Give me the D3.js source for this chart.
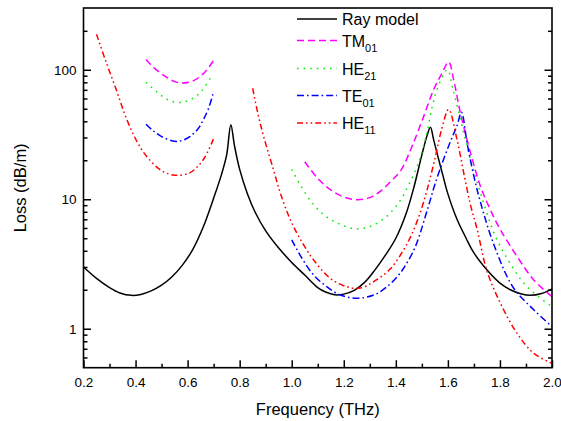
<!DOCTYPE html>
<html>
<head>
<meta charset="utf-8">
<script src="https://cdn.jsdelivr.net/npm/d3@7"></script>
<style>
  body { margin: 0; background: #fff; }
  svg { display: block; font-family: Arial, "Liberation Sans", sans-serif; }
</style>
</head>
<body>
<div id="chart"></div>
<script>
// ray model (black solid)
const rayX = [0.2, 0.25, 0.3, 0.34, 0.384, 0.42, 0.46, 0.5, 0.54, 0.58, 0.62, 0.66, 0.7, 0.73, 0.75, 0.766, 0.78, 0.8, 0.83, 0.86, 0.9, 0.95, 1.0, 1.05, 1.1, 1.13, 1.165, 1.2, 1.24, 1.28, 1.32, 1.36, 1.4, 1.44, 1.47, 1.5, 1.52, 1.533, 1.545, 1.56, 1.58, 1.6, 1.635, 1.67, 1.7, 1.76, 1.8, 1.84, 1.88, 1.917, 1.96, 2.0]
const rayY = [3.0, 2.45, 2.08, 1.89, 1.81, 1.84, 1.96, 2.17, 2.52, 3.1, 4.1, 6.1, 10.2, 15.5, 22, 37.7, 26, 17, 11, 7.9, 5.7, 4.2, 3.25, 2.6, 2.08, 1.92, 1.83, 1.85, 1.98, 2.28, 2.85, 3.7, 5.0, 7.8, 12.5, 22, 31, 36, 29, 22, 15.5, 11, 7.0, 5.0, 3.85, 2.7, 2.25, 2.0, 1.86, 1.81, 1.87, 2.03]

// TM01 (magenta dashed), two branches
const tm1X = [0.44, 0.47, 0.51, 0.55, 0.58, 0.62, 0.66, 0.70]
const tm1Y = [120, 104, 90, 81, 79, 82, 93, 118]
const tm2X = [1.05, 1.1, 1.15, 1.2, 1.25, 1.3, 1.34, 1.38, 1.42, 1.46, 1.5, 1.545, 1.575, 1.603, 1.622, 1.648, 1.687, 1.725, 1.763, 1.8, 1.866, 1.93, 2.0]
const tm2Y = [19.5, 14.5, 11.8, 10.4, 9.9, 10.3, 11.5, 13.7, 16.8, 25, 40, 70, 92, 115, 84, 46.5, 22.8, 12.6, 8.3, 5.9, 3.61, 2.38, 1.77]

// HE21 (green dotted)
const he21aX = [0.44, 0.48, 0.51, 0.54, 0.57, 0.60, 0.63, 0.655, 0.69]
const he21aY = [80, 68, 61, 57, 56, 57.5, 62, 69, 88]
const he21bX = [1.0, 1.033, 1.078, 1.13, 1.19, 1.245, 1.3, 1.366, 1.417, 1.45, 1.48, 1.5, 1.52, 1.54, 1.56, 1.598, 1.62, 1.65, 1.68, 1.725, 1.783, 1.847, 1.904, 2.0]
const he21bY = [17, 12.9, 9.4, 7.4, 6.35, 5.9, 6.15, 7.4, 9.8, 13, 17.5, 23, 33, 52, 72, 100, 70, 40, 22.8, 11.2, 5.15, 3.02, 2.11, 1.48]

// TE01 (blue dash-dot)
const te1X = [0.44, 0.47, 0.50, 0.55, 0.58, 0.61, 0.64, 0.66, 0.68, 0.70]
const te1Y = [38, 33.5, 30.5, 28, 28.5, 30.6, 35, 41, 50, 68]
const te2X = [1.0, 1.039, 1.084, 1.135, 1.187, 1.25, 1.315, 1.366, 1.411, 1.43, 1.468, 1.49, 1.51, 1.53, 1.55, 1.58, 1.61, 1.635, 1.652, 1.674, 1.70, 1.725, 1.776, 1.85, 1.93, 2.0]
const te2Y = [4.86, 3.51, 2.6, 2.11, 1.82, 1.72, 1.82, 2.11, 2.6, 2.93, 4.0, 5.2, 7.0, 9.5, 13, 19.5, 28, 37, 47, 27, 15, 9.5, 4.5, 2.1, 1.4, 1.04]

// HE11 (red dash-dot-dot)
const he11aX = [0.25, 0.288, 0.326, 0.365, 0.403, 0.442, 0.493, 0.544, 0.608, 0.66, 0.70]
const he11aY = [188, 113, 70, 42, 28.5, 21.5, 17, 15.4, 16, 20.2, 29.5]
const he11bX = [0.85, 0.87, 0.892, 0.93, 0.956, 0.99, 1.02, 1.05, 1.084, 1.148, 1.212, 1.263, 1.315, 1.379, 1.43, 1.46, 1.49, 1.52, 1.55, 1.575, 1.603, 1.635, 1.661, 1.687, 1.712, 1.75, 1.802, 1.866, 1.93, 2.0]
const he11bY = [72, 46, 30.6, 16.9, 11.2, 7.3, 5.47, 4.3, 3.4, 2.45, 2.11, 2.06, 2.31, 2.9, 4.07, 5.3, 7.5, 11.8, 20.5, 34, 49.3, 28.9, 15.9, 9, 5.9, 2.8, 1.57, 0.92, 0.645, 0.54]

// axis ticks
const xMajor = [0.2, 0.4, 0.6, 0.8, 1.0, 1.2, 1.4, 1.6, 1.8, 2.0]
const xMinor = [0.3, 0.5, 0.7, 0.9, 1.1, 1.3, 1.5, 1.7, 1.9]
const yMajor = [1, 10, 100]
const yMinor = [0.6, 0.7, 0.8, 0.9, 2, 3, 4, 5, 6, 7, 8, 9, 20, 30, 40, 50, 60, 70, 80, 90, 200]

// series names / legend labels
const seriesNames = ['Ray model', 'TM', 'HE', 'TE', 'HE']
const seriesSubs = ['', '01', '21', '01', '11']

let series = [
   { color: '#000000', dash: null, parts: [[rayX, rayY]] },
   { color: '#ff00ff', dash: '7,4', parts: [[tm1X, tm1Y], [tm2X, tm2Y]] },
   { color: '#00ee00', dash: '1.6,5', parts: [[he21aX, he21aY], [he21bX, he21bY]] },
   { color: '#0000ff', dash: '7,3,1.6,3', parts: [[te1X, te1Y], [te2X, te2Y]] },
   { color: '#ff0000', dash: '6,3,1.6,3,1.6,3', parts: [[he11aX, he11aY], [he11bX, he11bY]] }
].map((s, i) => Object.assign(s, { name: seriesNames[i], sub: seriesSubs[i] }))

// plot margins
let margin = { top: 8, right: 9, bottom: 53.3, left: 83.5 }
let width = 561 - margin.left - margin.right
let height = 421 - margin.top - margin.bottom

let root = d3.select('#chart')
   .append('svg')
      .attr('width', 561)
      .attr('height', 421)

root.append('rect')
   .attr('width', 561)
   .attr('height', 421)
   .attr('fill', '#ffffff')

let svg = root.append('g')
   .attr('transform', 'translate(' + margin.left + ',' + margin.top + ')')

let xScale = d3.scaleLinear().domain([0.2, 2.0]).range([0, width])
let yScale = d3.scaleLog().domain([0.5, 300]).range([height, 0])

// curves
let line = d3.line()
   .x(d => xScale(d[0]))
   .y(d => yScale(d[1]))
   .curve(d3.curveCatmullRom.alpha(0.5))

series.forEach(s => {
   s.parts.forEach(p => {
      svg.append('path')
         .datum(d3.zip(p[0], p[1]))
         .attr('d', line)
         .attr('fill', 'none')
         .attr('stroke', s.color)
         .attr('stroke-width', 1.5)
         .attr('stroke-dasharray', s.dash)
   })
})

// axes: ticks point inward
function styleAxis(g) {
   g.select('.domain').remove()
   g.selectAll('line').attr('stroke', '#000').attr('stroke-width', 1.5)
   g.selectAll('text')
      .attr('fill', '#000')
      .style('font-size', '13.5px')
      .style('font-family', 'Arial, "Liberation Sans", sans-serif')
}

svg.append('g')
   .attr('transform', 'translate(0,' + height + ')')
   .call(d3.axisBottom(xScale).tickValues(xMajor).tickSizeInner(-7.5).tickSizeOuter(0)
      .tickPadding(10).tickFormat(d3.format('.1f')))
   .call(styleAxis)

svg.append('g')
   .attr('transform', 'translate(0,' + height + ')')
   .call(d3.axisBottom(xScale).tickValues(xMinor).tickSizeInner(-4).tickSizeOuter(0).tickFormat(''))
   .call(styleAxis)

svg.append('g')
   .call(d3.axisLeft(yScale).tickValues(yMajor).tickSizeInner(-7.5).tickSizeOuter(0)
      .tickPadding(7).tickFormat(d3.format('d')))
   .call(styleAxis)

svg.append('g')
   .call(d3.axisLeft(yScale).tickValues(yMinor).tickSizeInner(-4).tickSizeOuter(0).tickFormat(''))
   .call(styleAxis)

svg.append('g')
   .attr('transform', 'translate(' + width + ',0)')
   .call(d3.axisRight(yScale).tickValues(yMajor).tickSizeInner(-7.5).tickSizeOuter(0).tickFormat(''))
   .call(styleAxis)

svg.append('g')
   .attr('transform', 'translate(' + width + ',0)')
   .call(d3.axisRight(yScale).tickValues(yMinor).tickSizeInner(-4).tickSizeOuter(0).tickFormat(''))
   .call(styleAxis)

// frame
svg.append('rect')
   .attr('width', width)
   .attr('height', height)
   .attr('fill', 'none')
   .attr('stroke', '#000')
   .attr('stroke-width', 1.6)

// axis titles
root.append('text')
   .attr('x', margin.left + width / 2)
   .attr('y', 415)
   .attr('text-anchor', 'middle')
   .style('font-size', '16.5px')
   .text('Frequency (THz)')

root.append('text')
   .attr('transform', 'translate(26,' + (margin.top + height / 2) + ') rotate(-90)')
   .attr('text-anchor', 'middle')
   .style('font-size', '16.5px')
   .text('Loss (dB/m)')

// legend
let legendRows = [11, 32.5, 60.5, 87.5, 115]
let legend = svg.append('g')

series.forEach((s, i) => {
   let ly = legendRows[i]
   legend.append('line')
      .attr('x1', 213.5)
      .attr('x2', 253.5)
      .attr('y1', ly)
      .attr('y2', ly)
      .attr('stroke', s.color)
      .attr('stroke-width', 1.5)
      .attr('stroke-dasharray', s.dash)
   let t = legend.append('text')
      .attr('x', 258.5)
      .attr('y', ly + 6)
      .style('font-size', '16px')
   t.append('tspan').text(s.name)
   if (s.sub) {
      t.append('tspan')
         .attr('dy', 5)
         .style('font-size', '11px')
         .text(s.sub)
   }
})
</script>
</body>
</html>
